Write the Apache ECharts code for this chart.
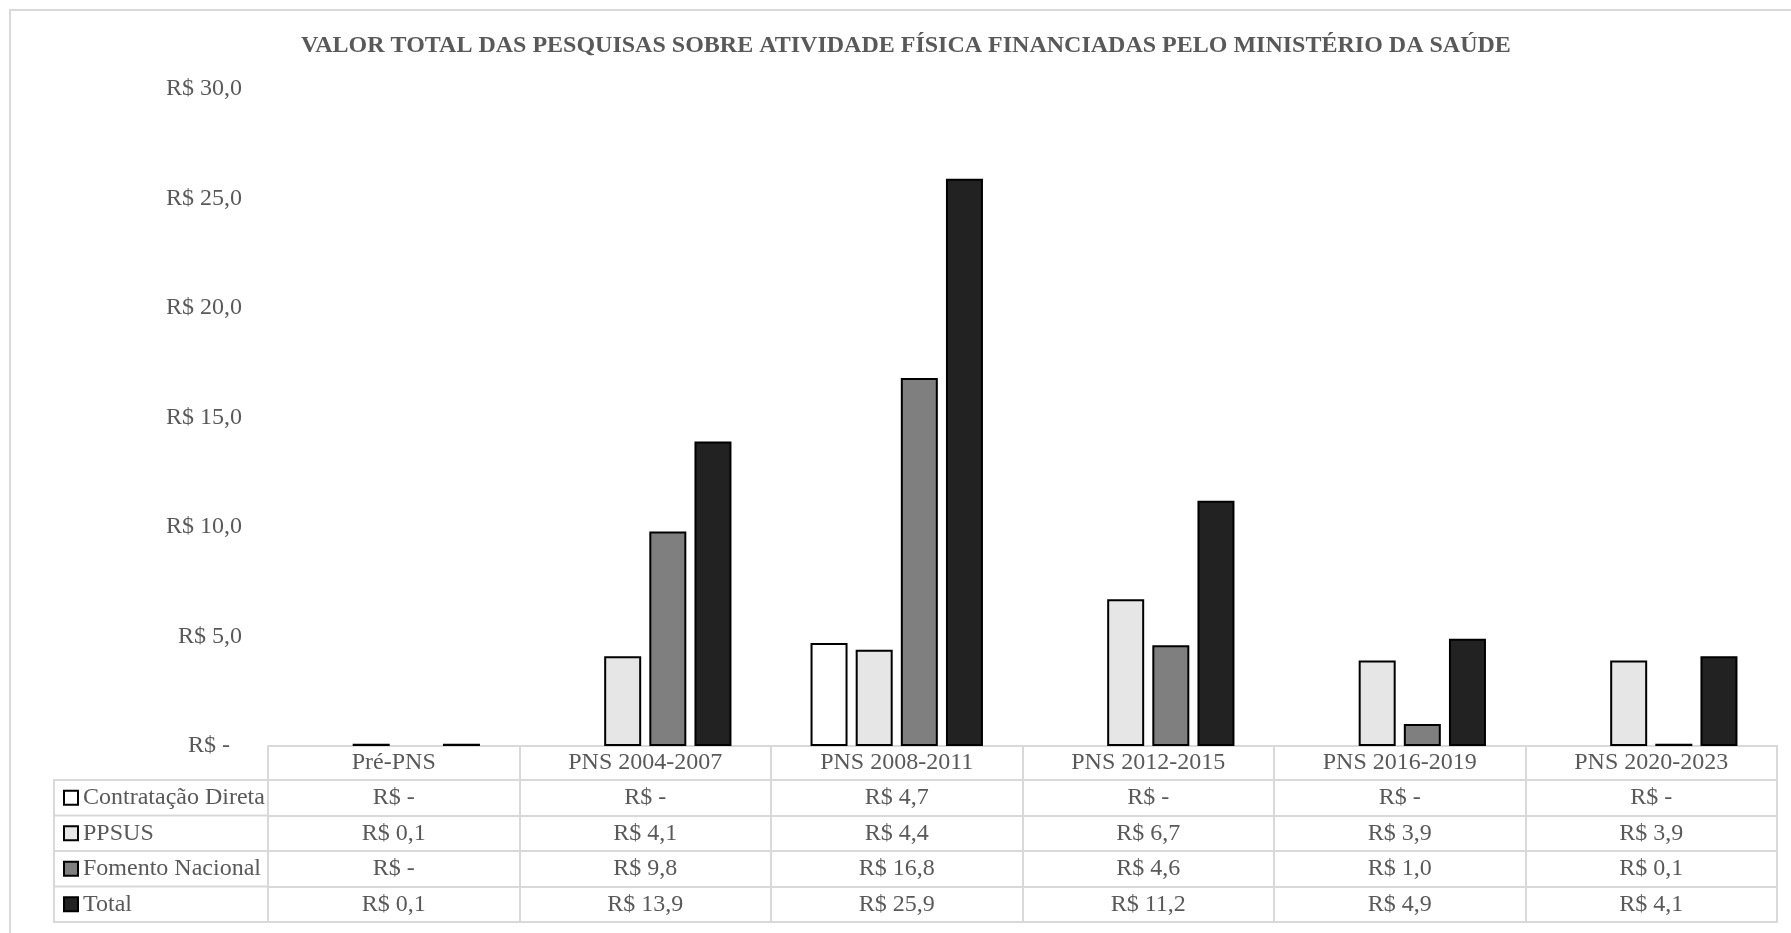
<!DOCTYPE html>
<html lang="pt">

<head>
    <meta charset="UTF-8" />
    <title>Valor total das pesquisas</title>
    <style>
        html,
        body {
            padding: 0;
            margin: 0;
            background: #fff;
        }

        #chart {
            width: 1791px;
            height: 933px;
        }
    </style>
</head>

<body>
    <div id="chart"></div>
    <script src="https://cdn.jsdelivr.net/npm/echarts@6/dist/echarts.min.js"></script>
    <script type="text/javascript">
        // dados
        var categories = ['Pré-PNS', 'PNS 2004-2007', 'PNS 2008-2011', 'PNS 2012-2015', 'PNS 2016-2019', 'PNS 2020-2023'];
        var seriesNames = ['Contratação Direta', 'PPSUS', 'Fomento Nacional', 'Total'];
        var contratacaoDireta = [0, 0, 4.7, 0, 0, 0];
        var ppsus = [0.1, 4.1, 4.4, 6.7, 3.9, 3.9];
        var fomentoNacional = [0, 9.8, 16.8, 4.6, 1.0, 0.1];
        var total = [0.1, 13.9, 25.9, 11.2, 4.9, 4.1];
        var yMin = 0, yMax = 30, yStep = 5;

        var rows = [contratacaoDireta, ppsus, fomentoNacional, total];
        var colors = ['#ffffff', '#e6e6e6', '#7f7f7f', '#222222'];

        var FONT = 'Liberation Serif';
        var TEXT = '#595959';
        var LINE = '#d9d9d9';

        // layout da tabela
        var gridLeft = 268, gridRight = 14, gridTop = 89, gridBottom = 187;
        var H = 933;
        var axisY = H - gridBottom;      // linha do zero
        var headH = 34;                  // linha das categorias
        var rowH = 35.5;                 // linhas de valores
        var tableLeft = 54;

        function fmt(v) {
            if (v === 0) return 'R$ -';
            return 'R$ ' + v.toFixed(1).replace('.', ',');
        }

        var chart = echarts.init(document.getElementById('chart'));

        var xAxes = [{
            type: 'category',
            data: categories,
            gridIndex: 0,
            position: 'bottom',
            axisLine: { lineStyle: { color: LINE, width: 2 } },
            axisTick: { show: true, interval: 0, length: headH, lineStyle: { color: LINE, width: 2 } },
            axisLabel: {
                interval: 0, margin: headH / 2, verticalAlign: 'middle',
                color: TEXT, fontFamily: FONT, fontSize: 24
            }
        }];
        // uma linha da tabela por eixo
        rows.forEach(function (r, k) {
            xAxes.push({
                type: 'category',
                data: categories,
                gridIndex: 0,
                position: 'bottom',
                offset: headH + rowH * k,
                axisLine: { lineStyle: { color: LINE, width: 2 } },
                axisTick: { show: true, interval: 0, length: rowH, lineStyle: { color: LINE, width: 2 } },
                axisLabel: {
                    interval: 0, margin: rowH / 2, verticalAlign: 'middle',
                    color: TEXT, fontFamily: FONT, fontSize: 24,
                    formatter: function (val, i) { return fmt(r[i]); }
                }
            });
        });
        // borda inferior da tabela
        xAxes.push({
            type: 'category',
            data: categories,
            gridIndex: 0,
            position: 'bottom',
            offset: headH + rowH * rows.length,
            axisLine: { lineStyle: { color: LINE, width: 2 } },
            axisTick: { show: false },
            axisLabel: { show: false }
        });

        var series = rows.map(function (r, k) {
            return {
                name: seriesNames[k],
                type: 'bar',
                xAxisIndex: 0,
                barWidth: 37,
                barGap: '22%',
                itemStyle: { color: colors[k], borderColor: '#000', borderWidth: 2 },
                data: r.map(function (v) { return v === 0 ? null : v; })
            };
        });

        // coluna da legenda (moldura)
        var graphics = [{
            type: 'rect',
            shape: { x: 10, y: 10, width: 1800, height: 940 },
            style: { fill: 'none', stroke: LINE, lineWidth: 2 },
            silent: true
        }, {
            type: 'rect',
            shape: { x: tableLeft, y: axisY + headH, width: gridLeft - tableLeft, height: rowH * rows.length },
            style: { fill: 'none', stroke: LINE, lineWidth: 2 },
            silent: true
        }];
        for (var k = 1; k < rows.length; k++) {
            var yy = axisY + headH + rowH * k;
            graphics.push({
                type: 'line',
                shape: { x1: tableLeft, y1: yy, x2: gridLeft, y2: yy },
                style: { stroke: LINE, lineWidth: 2 },
                silent: true
            });
        }

        var option = {
            animation: false,
            backgroundColor: '#fff',
            title: {
                text: 'VALOR TOTAL DAS PESQUISAS SOBRE ATIVIDADE FÍSICA FINANCIADAS PELO MINISTÉRIO DA SAÚDE',
                left: 296,
                top: 29,
                textStyle: { color: TEXT, fontFamily: FONT, fontSize: 24, fontWeight: 'bold' }
            },
            legend: {
                orient: 'vertical',
                left: 63,
                top: axisY + headH + rowH / 2 - 12,
                padding: 0,
                itemWidth: 14,
                itemHeight: 14,
                itemGap: rowH - 24,
                selectedMode: false,
                icon: 'rect',
                data: seriesNames,
                textStyle: { color: TEXT, fontFamily: FONT, fontSize: 24, lineHeight: 24 }
            },
            grid: { left: gridLeft, right: gridRight, top: gridTop, bottom: gridBottom },
            xAxis: xAxes,
            yAxis: {
                type: 'value',
                min: yMin,
                max: yMax,
                interval: yStep,
                axisLine: { show: false },
                axisTick: { show: false },
                splitLine: { show: false },
                axisLabel: {
                    margin: 26,
                    color: TEXT, fontFamily: FONT, fontSize: 24,
                    formatter: function (v) {
                        return v === 0 ? '{z|R$ -}' : fmt(v);
                    },
                    rich: { z: { color: TEXT, fontFamily: FONT, fontSize: 24, padding: [0, 12, 0, 0] } }
                }
            },
            graphic: graphics,
            series: series
        };
        chart.setOption(option);
    </script>
</body>

</html>
